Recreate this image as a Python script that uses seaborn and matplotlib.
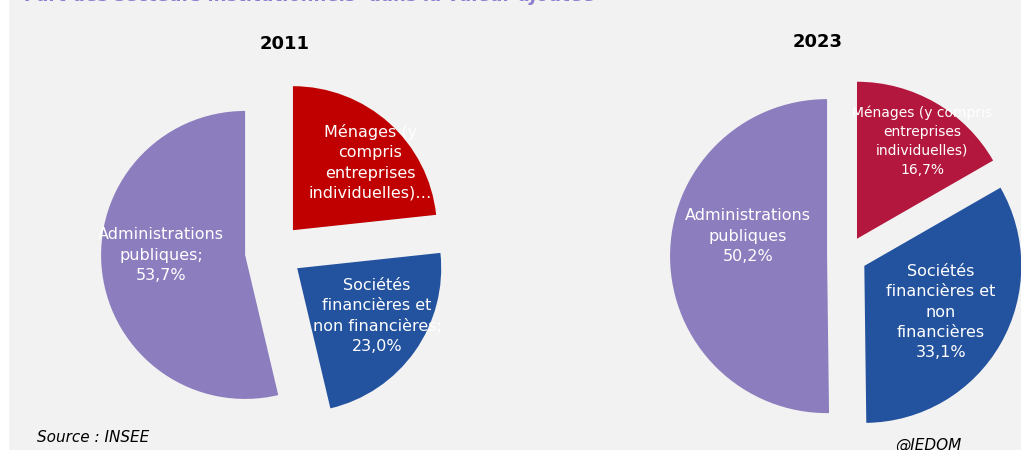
import matplotlib
matplotlib.use('Agg')
import matplotlib.pyplot as plt
import seaborn as sns

# data
years = ["2011", "2023"]
shares_2011 = [23.3, 23.0, 53.7]
shares_2023 = [16.7, 33.1, 50.2]
labels_2011 = ["Ménages (y\ncompris\nentreprises\nindividuelles)…",
               "Sociétés\nfinancières et\nnon financières;\n23,0%",
               "Administrations\npubliques;\n53,7%"]
labels_2023 = ["Ménages (y compris\nentreprises\nindividuelles)\n16,7%",
               "Sociétés\nfinancières et\nnon\nfinancières\n33,1%",
               "Administrations\npubliques\n50,2%"]

sns.set_theme(style="white")
plt.rcParams['font.family'] = ['DejaVu Sans']

purple = "#8C7DBE"
blue = "#23529F"
colors_2011 = ["#C00000", blue, purple]
colors_2023 = ["#B4173E", blue, purple]

W, H = 1021, 450
fig = plt.figure(figsize=(W / 100, H / 100), dpi=100)
fig.patch.set_facecolor("#F2F2F2")


def pie_axes(cx, cy, r, half=215):
    # axes centred on pixel (cx, cy), data radius 1 == r pixels
    ax = fig.add_axes([(cx - half) / W, (H - cy - half) / H, 2 * half / W, 2 * half / H])
    ax.set_facecolor("none")
    return ax, half / r


def draw(ax, lim, shares, colors, explode, labels, label_pos, label_sizes):
    ax.pie(shares, colors=colors, startangle=90, counterclock=False,
           explode=[explode] * len(shares), radius=1,
           wedgeprops=dict(linewidth=0))
    for txt, (x, y), fs in zip(labels, label_pos, label_sizes):
        ax.text(x, y, txt, color="white", ha="center", va="center",
                fontsize=fs, linespacing=1.45)
    ax.set_xlim(-lim, lim)
    ax.set_ylim(-lim, lim)
    ax.set_axis_off()


ax1, lim1 = pie_axes(273.7, 251.6, 144)
draw(ax1, lim1, shares_2011, colors_2011, 0.2, labels_2011,
     [(0.67, 0.62), (0.717, -0.447), (-0.783, -0.024)], [11.5, 11.5, 11.5])

ax2, lim2 = pie_axes(847, 256, 157)
draw(ax2, lim2, shares_2023, colors_2023, 0.127, labels_2023,
     [(0.478, 0.732), (0.599, -0.357), (-0.631, 0.127)], [10, 11.5, 11.5])

fig.text(285 / W, 1 - 44 / H, years[0], ha="center", va="center",
         fontsize=13, fontweight="bold", color="black")
fig.text(818 / W, 1 - 42 / H, years[1], ha="center", va="center",
         fontsize=13, fontweight="bold", color="black")

fig.text(25 / W, 1 - 1 / H, "Part des secteurs institutionnels  dans la valeur ajoutée",
         ha="left", va="baseline", fontsize=13, fontweight="bold",
         fontstyle="italic", color="#8E7CD0")

fig.text(37 / W, 1 - 438 / H, "Source : INSEE", ha="left", va="center",
         fontsize=11, fontstyle="italic", color="black")
fig.text(928 / W, 1 - 445 / H, "@IEDOM", ha="center", va="center",
         fontsize=11, fontstyle="italic", color="black")

# white strip at the left edge
fig.add_artist(plt.Rectangle((0, 0), 8 / W, 1, transform=fig.transFigure,
                             color="white", zorder=-1))

fig.savefig("out.png", dpi=100, facecolor=fig.get_facecolor())
